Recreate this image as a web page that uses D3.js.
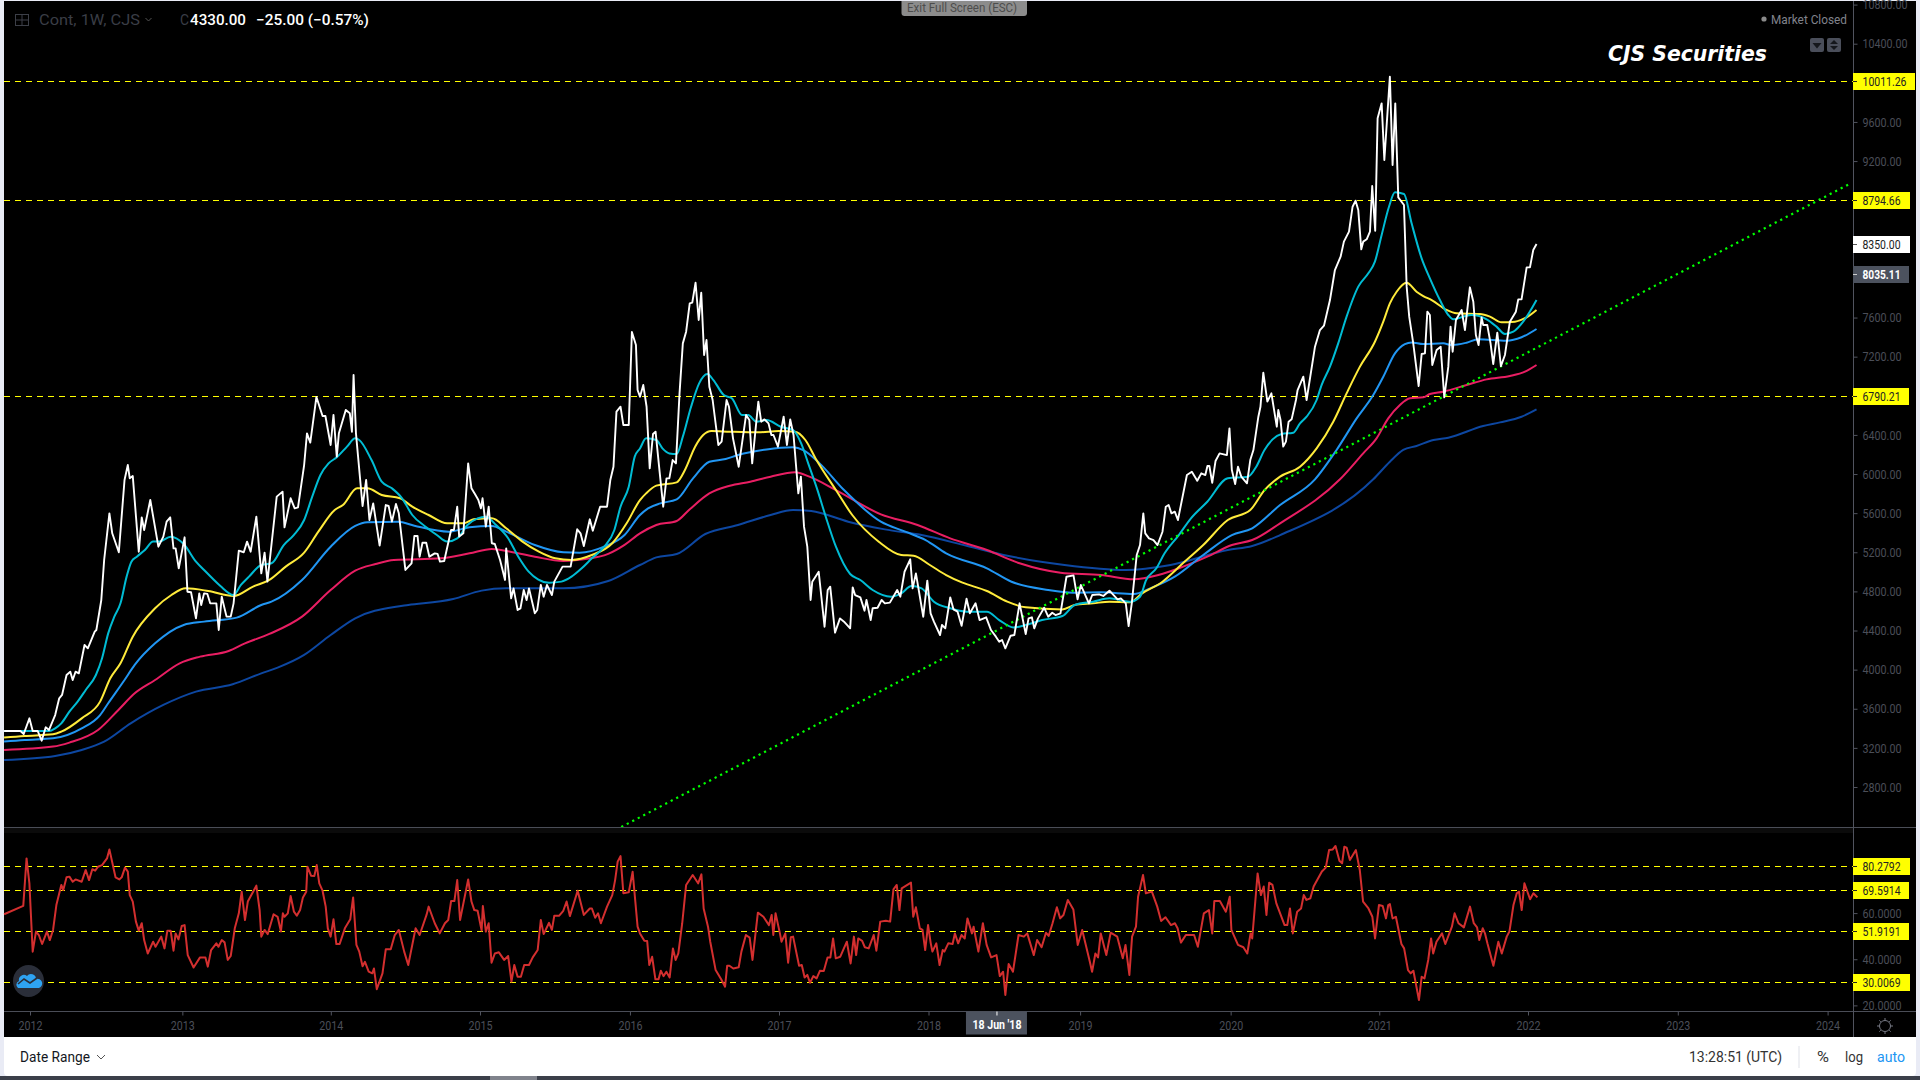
<!DOCTYPE html>
<html><head><meta charset="utf-8">
<script src="https://cdn.jsdelivr.net/npm/d3@7/dist/d3.min.js"></script>
<style>html,body{margin:0;padding:0;background:#e9ebf5;overflow:hidden}svg{display:block}text{font-family:Roboto,"Open Sans",sans-serif}</style>
</head><body><svg id="c" width="1920" height="1080"></svg>
<script>
const priceClose = [[2011.827,3373],[2011.936,3373],[2011.958,3342],[2011.996,3502],[2012.018,3373],[2012.051,3373],[2012.078,3274],[2012.105,3410],[2012.127,3383],[2012.168,3536],[2012.195,3707],[2012.214,3741],[2012.244,3945],[2012.269,3979],[2012.285,3894],[2012.304,3979],[2012.326,3962],[2012.364,4252],[2012.386,4218],[2012.432,4388],[2012.443,4405],[2012.476,4712],[2012.495,5121],[2012.530,5598],[2012.549,5394],[2012.593,5200],[2012.631,5939],[2012.653,6092],[2012.666,5956],[2012.686,5980],[2012.726,5206],[2012.746,5557],[2012.762,5428],[2012.803,5735],[2012.857,5257],[2012.890,5360],[2012.912,5513],[2012.936,5557],[2012.958,5240],[2012.972,5240],[2012.993,5036],[2013.032,5353],[2013.051,4797],[2013.075,4791],[2013.108,4525],[2013.130,4780],[2013.143,4661],[2013.162,4780],[2013.184,4774],[2013.203,4678],[2013.244,4678],[2013.260,4405],[2013.280,4746],[2013.312,4542],[2013.340,4542],[2013.359,4678],[2013.394,5217],[2013.427,5200],[2013.449,5309],[2013.473,5206],[2013.511,5564],[2013.544,4985],[2013.566,5196],[2013.585,4900],[2013.647,5769],[2013.686,5820],[2013.699,5455],[2013.740,5752],[2013.767,5649],[2013.789,5660],[2013.830,6092],[2013.849,6416],[2013.871,6321],[2013.912,6788],[2013.953,6593],[2013.972,6593],[2014.007,6297],[2014.026,6604],[2014.048,6178],[2014.062,6416],[2014.108,6655],[2014.135,6621],[2014.149,6433],[2014.160,7013],[2014.176,6416],[2014.220,5673],[2014.244,5939],[2014.266,5530],[2014.291,5700],[2014.334,5268],[2014.375,5683],[2014.394,5673],[2014.416,5513],[2014.443,5694],[2014.462,5598],[2014.506,5019],[2014.547,5087],[2014.566,5367],[2014.587,5367],[2014.601,5155],[2014.620,5298],[2014.645,5298],[2014.666,5155],[2014.702,5189],[2014.721,5183],[2014.737,5104],[2014.765,5111],[2014.811,5428],[2014.830,5428],[2014.852,5666],[2014.865,5360],[2014.893,5394],[2014.925,6109],[2014.947,5854],[2014.974,5786],[2014.993,5735],[2015.010,5649],[2015.021,5752],[2015.043,5462],[2015.062,5666],[2015.083,5292],[2015.103,5285],[2015.138,5121],[2015.171,4917],[2015.179,5240],[2015.212,4729],[2015.228,4831],[2015.255,4610],[2015.274,4627],[2015.296,4814],[2015.315,4712],[2015.331,4831],[2015.370,4576],[2015.386,4610],[2015.410,4866],[2015.429,4746],[2015.451,4866],[2015.484,4763],[2015.500,4900],[2015.555,5053],[2015.609,5053],[2015.653,5435],[2015.675,5394],[2015.697,5264],[2015.737,5537],[2015.757,5421],[2015.806,5666],[2015.852,5666],[2015.874,5939],[2015.895,6075],[2015.915,6638],[2015.942,6689],[2015.961,6501],[2015.997,6501],[2016.018,7452],[2016.045,7319],[2016.056,6859],[2016.072,6791],[2016.094,6910],[2016.116,6688],[2016.137,6058],[2016.159,6409],[2016.176,6433],[2016.203,6024],[2016.227,5666],[2016.249,5956],[2016.268,5956],[2016.290,6143],[2016.312,6109],[2016.336,6825],[2016.358,7336],[2016.380,7455],[2016.404,7745],[2016.421,7752],[2016.443,7956],[2016.464,7575],[2016.481,7854],[2016.500,7217],[2016.516,7370],[2016.535,6893],[2016.557,6757],[2016.595,6297],[2016.617,6331],[2016.650,6757],[2016.666,6688],[2016.693,6365],[2016.731,6075],[2016.780,6603],[2016.802,6552],[2016.821,6109],[2016.862,6740],[2016.881,6535],[2016.903,6559],[2016.930,6518],[2016.949,6399],[2016.963,6399],[2016.993,6280],[2017.031,6586],[2017.053,6297],[2017.075,6559],[2017.097,6399],[2017.129,5802],[2017.146,5973],[2017.167,5462],[2017.189,5257],[2017.211,4712],[2017.222,4899],[2017.265,5001],[2017.304,4439],[2017.325,4814],[2017.342,4848],[2017.374,4378],[2017.407,4524],[2017.434,4490],[2017.475,4422],[2017.492,4841],[2017.508,4763],[2017.543,4739],[2017.571,4603],[2017.584,4712],[2017.612,4507],[2017.625,4627],[2017.658,4633],[2017.685,4712],[2017.707,4678],[2017.740,4685],[2017.789,4814],[2017.810,4746],[2017.838,5001],[2017.876,5128],[2017.892,4831],[2017.914,4984],[2017.963,4541],[2017.990,4910],[2018.012,4576],[2018.034,4490],[2018.075,4354],[2018.088,4456],[2018.110,4422],[2018.143,4739],[2018.165,4616],[2018.192,4593],[2018.219,4449],[2018.252,4725],[2018.274,4576],[2018.312,4678],[2018.339,4507],[2018.383,4535],[2018.415,4405],[2018.448,4337],[2018.470,4286],[2018.489,4303],[2018.511,4218],[2018.546,4347],[2018.571,4354],[2018.606,4678],[2018.647,4364],[2018.666,4524],[2018.688,4535],[2018.704,4422],[2018.729,4524],[2018.770,4633],[2018.797,4541],[2018.824,4582],[2018.846,4558],[2018.879,4575],[2018.919,4950],[2018.966,4964],[2018.993,4719],[2019.015,4865],[2019.069,4678],[2019.091,4763],[2019.137,4770],[2019.165,4753],[2019.206,4807],[2019.260,4719],[2019.282,4729],[2019.315,4678],[2019.334,4446],[2019.355,4678],[2019.388,5172],[2019.410,5274],[2019.432,5598],[2019.445,5393],[2019.470,5342],[2019.500,5325],[2019.527,5274],[2019.560,5410],[2019.582,5666],[2019.601,5683],[2019.620,5598],[2019.642,5615],[2019.663,5530],[2019.723,5990],[2019.756,6024],[2019.792,5932],[2019.819,6007],[2019.846,5990],[2019.860,6082],[2019.873,6082],[2019.892,5911],[2019.914,6133],[2019.941,6211],[2019.990,6194],[2020.007,6467],[2020.023,6041],[2020.045,5898],[2020.064,6075],[2020.086,5973],[2020.124,5905],[2020.146,6143],[2020.167,6245],[2020.200,6586],[2020.214,6688],[2020.233,7036],[2020.260,6740],[2020.287,6825],[2020.323,6484],[2020.333,6655],[2020.348,6552],[2020.366,6280],[2020.384,6331],[2020.402,6535],[2020.422,6559],[2020.451,6757],[2020.462,6859],[2020.500,6995],[2020.522,6757],[2020.578,7302],[2020.611,7472],[2020.638,7517],[2020.678,7779],[2020.711,8086],[2020.749,8222],[2020.771,8376],[2020.805,8478],[2020.829,8733],[2020.849,8795],[2020.867,8699],[2020.887,8297],[2020.900,8376],[2020.923,8400],[2020.945,8478],[2020.960,8945],[2020.980,8488],[2020.996,9637],[2021.023,9790],[2021.041,9211],[2021.078,10063],[2021.096,9159],[2021.114,9790],[2021.134,8829],[2021.172,8751],[2021.190,7916],[2021.207,7609],[2021.234,7336],[2021.270,6900],[2021.290,7227],[2021.312,7234],[2021.328,7660],[2021.345,7626],[2021.361,7115],[2021.390,7268],[2021.417,7302],[2021.441,6784],[2021.468,7098],[2021.483,7507],[2021.497,7251],[2021.519,7575],[2021.557,7677],[2021.579,7472],[2021.612,7909],[2021.635,7762],[2021.652,7421],[2021.670,7319],[2021.690,7602],[2021.701,7524],[2021.728,7524],[2021.750,7336],[2021.768,7125],[2021.795,7445],[2021.819,7104],[2021.846,7217],[2021.879,7558],[2021.919,7660],[2021.935,7786],[2021.957,7786],[2021.991,8113],[2022.013,8113],[2022.035,8290],[2022.057,8352]];
const maTeal = [[2011.827,3373],[2012.127,3373],[2012.168,3400],[2012.209,3451],[2012.263,3570],[2012.318,3673],[2012.372,3792],[2012.440,3945],[2012.481,4116],[2012.522,4371],[2012.563,4542],[2012.604,4678],[2012.645,4951],[2012.677,5104],[2012.713,5155],[2012.767,5223],[2012.822,5309],[2012.863,5309],[2012.939,5360],[2013.026,5285],[2013.108,5104],[2013.162,5019],[2013.217,4934],[2013.271,4855],[2013.359,4763],[2013.408,4866],[2013.462,4951],[2013.544,5070],[2013.612,5087],[2013.694,5274],[2013.762,5377],[2013.830,5530],[2013.884,5769],[2013.939,5990],[2013.993,6109],[2014.048,6171],[2014.116,6280],[2014.171,6365],[2014.198,6348],[2014.280,6143],[2014.348,5922],[2014.416,5854],[2014.484,5752],[2014.552,5581],[2014.634,5469],[2014.716,5377],[2014.784,5309],[2014.852,5343],[2014.920,5479],[2014.988,5547],[2015.043,5564],[2015.111,5479],[2015.192,5343],[2015.260,5155],[2015.329,5002],[2015.391,4924],[2015.465,4889],[2015.547,4900],[2015.615,4951],[2015.683,5036],[2015.751,5138],[2015.833,5257],[2015.901,5428],[2015.942,5666],[2015.997,5871],[2016.037,6178],[2016.072,6262],[2016.113,6365],[2016.181,6348],[2016.222,6262],[2016.268,6211],[2016.317,6205],[2016.358,6382],[2016.413,6688],[2016.467,6927],[2016.522,7022],[2016.562,6961],[2016.631,6808],[2016.685,6774],[2016.753,6603],[2016.794,6603],[2016.849,6535],[2016.917,6552],[2017.012,6484],[2017.094,6450],[2017.148,6314],[2017.195,6109],[2017.257,5836],[2017.312,5564],[2017.380,5257],[2017.475,4978],[2017.543,4916],[2017.625,4814],[2017.748,4746],[2017.816,4780],[2017.884,4855],[2017.952,4831],[2018.034,4695],[2018.143,4627],[2018.252,4593],[2018.388,4593],[2018.470,4507],[2018.565,4432],[2018.647,4456],[2018.756,4507],[2018.892,4548],[2018.974,4661],[2019.097,4695],[2019.206,4729],[2019.342,4695],[2019.410,4746],[2019.451,4916],[2019.519,5036],[2019.574,5189],[2019.669,5376],[2019.750,5547],[2019.859,5717],[2019.996,5956],[2020.132,5973],[2020.186,6075],[2020.241,6245],[2020.295,6354],[2020.355,6409],[2020.433,6423],[2020.478,6518],[2020.522,6586],[2020.589,6757],[2020.622,6910],[2020.678,7098],[2020.733,7336],[2020.789,7609],[2020.867,7916],[2020.934,8052],[2020.978,8171],[2021.023,8444],[2021.072,8733],[2021.112,8880],[2021.172,8863],[2021.223,8563],[2021.290,8205],[2021.345,8001],[2021.412,7779],[2021.468,7626],[2021.501,7582],[2021.568,7609],[2021.624,7626],[2021.724,7582],[2021.790,7507],[2021.846,7432],[2021.902,7455],[2021.968,7558],[2022.057,7779]];
const maYellow = [[2011.827,3305],[2011.963,3322],[2012.154,3339],[2012.209,3366],[2012.345,3502],[2012.468,3673],[2012.536,3911],[2012.604,4065],[2012.686,4337],[2012.835,4627],[2012.944,4763],[2013.040,4831],[2013.190,4804],[2013.359,4753],[2013.489,4849],[2013.598,4917],[2013.707,5053],[2013.830,5196],[2013.925,5411],[2014.034,5632],[2014.089,5683],[2014.184,5854],[2014.252,5854],[2014.348,5786],[2014.470,5752],[2014.552,5666],[2014.661,5581],[2014.784,5496],[2014.893,5496],[2014.961,5537],[2015.083,5547],[2015.179,5445],[2015.288,5309],[2015.397,5206],[2015.506,5138],[2015.615,5121],[2015.751,5172],[2015.887,5292],[2015.983,5496],[2016.072,5734],[2016.113,5802],[2016.181,5881],[2016.317,5915],[2016.372,6041],[2016.440,6280],[2016.494,6399],[2016.549,6440],[2016.671,6433],[2016.862,6426],[2016.998,6440],[2017.107,6433],[2017.176,6348],[2017.244,6160],[2017.380,5836],[2017.489,5581],[2017.666,5308],[2017.816,5172],[2017.898,5165],[2018.007,5070],[2018.116,4967],[2018.225,4889],[2018.388,4804],[2018.524,4695],[2018.647,4637],[2018.892,4616],[2018.974,4661],[2019.097,4678],[2019.206,4695],[2019.342,4688],[2019.424,4780],[2019.560,4899],[2019.696,5087],[2019.832,5274],[2019.996,5530],[2020.146,5632],[2020.241,5836],[2020.345,5973],[2020.478,6075],[2020.589,6263],[2020.700,6535],[2020.789,6825],[2020.878,7098],[2020.978,7353],[2021.034,7558],[2021.078,7745],[2021.123,7864],[2021.190,7956],[2021.256,7864],[2021.301,7820],[2021.357,7779],[2021.457,7677],[2021.523,7643],[2021.679,7636],[2021.746,7609],[2021.824,7551],[2021.913,7558],[2021.991,7602],[2022.057,7677]];
const maBlue = [[2011.827,3264],[2011.963,3281],[2012.154,3298],[2012.345,3400],[2012.468,3536],[2012.522,3656],[2012.631,3894],[2012.699,4048],[2012.835,4269],[2013.026,4457],[2013.162,4491],[2013.380,4532],[2013.544,4661],[2013.612,4695],[2013.816,4917],[2014.007,5257],[2014.171,5469],[2014.252,5506],[2014.457,5513],[2014.566,5472],[2014.797,5411],[2014.934,5455],[2015.083,5469],[2015.179,5411],[2015.370,5274],[2015.560,5200],[2015.669,5196],[2015.833,5257],[2015.969,5377],[2016.072,5581],[2016.126,5649],[2016.208,5700],[2016.317,5741],[2016.426,5956],[2016.535,6126],[2016.644,6153],[2016.726,6194],[2016.917,6252],[2017.094,6273],[2017.162,6245],[2017.271,6109],[2017.434,5836],[2017.680,5513],[2017.843,5411],[2017.979,5325],[2018.116,5189],[2018.388,5036],[2018.552,4899],[2018.797,4814],[2018.960,4787],[2019.151,4790],[2019.369,4773],[2019.478,4831],[2019.642,4950],[2019.832,5172],[2020.023,5376],[2020.159,5445],[2020.345,5683],[2020.578,5946],[2020.722,6246],[2020.856,6569],[2020.967,6808],[2021.034,6995],[2021.112,7234],[2021.178,7329],[2021.223,7346],[2021.301,7329],[2021.434,7336],[2021.490,7319],[2021.590,7343],[2021.668,7377],[2021.857,7363],[2021.957,7398],[2022.057,7483]];
const maPink = [[2011.827,3179],[2012.154,3213],[2012.263,3254],[2012.454,3383],[2012.590,3588],[2012.699,3758],[2012.835,3894],[2012.999,4065],[2013.135,4133],[2013.326,4191],[2013.435,4269],[2013.598,4365],[2013.816,4542],[2014.007,4814],[2014.171,5012],[2014.307,5080],[2014.429,5121],[2014.743,5138],[2014.934,5189],[2015.083,5234],[2015.206,5206],[2015.370,5155],[2015.560,5111],[2015.696,5128],[2015.860,5183],[2015.969,5275],[2016.072,5393],[2016.181,5479],[2016.317,5520],[2016.399,5632],[2016.535,5802],[2016.671,5881],[2016.808,5922],[2016.944,5973],[2017.107,6017],[2017.203,5973],[2017.380,5836],[2017.680,5588],[2017.925,5479],[2018.143,5342],[2018.388,5223],[2018.606,5087],[2018.879,4991],[2019.151,4967],[2019.369,4923],[2019.532,4967],[2019.669,5036],[2019.859,5155],[2020.023,5274],[2020.159,5325],[2020.345,5496],[2020.745,5946],[2020.900,6212],[2020.989,6365],[2021.067,6569],[2021.145,6706],[2021.212,6774],[2021.301,6784],[2021.345,6818],[2021.434,6842],[2021.590,6910],[2021.724,6968],[2021.879,7002],[2021.980,7047],[2022.057,7115]];
const maNavy = [[2011.827,3076],[2012.168,3117],[2012.345,3179],[2012.495,3264],[2012.672,3451],[2012.890,3639],[2013.108,3775],[2013.353,3850],[2013.544,3962],[2013.653,4020],[2013.830,4150],[2014.007,4354],[2014.171,4525],[2014.443,4644],[2014.525,4661],[2014.825,4722],[2015.015,4808],[2015.179,4831],[2015.560,4831],[2015.860,4906],[2016.072,5070],[2016.181,5148],[2016.317,5182],[2016.508,5387],[2016.726,5479],[2016.944,5581],[2017.094,5632],[2017.216,5622],[2017.462,5513],[2017.707,5434],[2017.952,5376],[2018.252,5267],[2018.524,5165],[2018.906,5070],[2019.315,5019],[2019.614,5070],[2019.996,5223],[2020.159,5264],[2020.345,5376],[2020.967,5946],[2021.078,6126],[2021.167,6246],[2021.256,6287],[2021.368,6348],[2021.468,6372],[2021.701,6491],[2021.813,6528],[2021.957,6586],[2022.057,6661]];
const rsi = [[2011.827,59.5],[2011.955,63.1],[2011.977,83.7],[2011.996,72.9],[2012.018,43.3],[2012.040,52.0],[2012.059,50.5],[2012.081,46.6],[2012.113,52.0],[2012.132,48.3],[2012.154,52.7],[2012.176,63.5],[2012.209,72.2],[2012.222,70.0],[2012.244,75.5],[2012.263,75.8],[2012.285,73.6],[2012.304,74.6],[2012.345,73.6],[2012.372,78.7],[2012.394,74.3],[2012.416,79.0],[2012.435,78.4],[2012.454,80.1],[2012.481,80.8],[2012.514,83.7],[2012.530,87.6],[2012.571,75.5],[2012.596,74.6],[2012.612,75.5],[2012.634,79.7],[2012.653,78.0],[2012.666,67.8],[2012.686,65.0],[2012.707,56.3],[2012.726,52.4],[2012.746,55.6],[2012.762,48.3],[2012.786,42.5],[2012.822,47.6],[2012.838,45.4],[2012.876,49.8],[2012.898,44.7],[2012.917,52.4],[2012.939,52.4],[2012.958,43.7],[2012.972,51.2],[2012.991,48.6],[2013.013,54.4],[2013.032,54.8],[2013.053,41.8],[2013.092,36.4],[2013.135,40.8],[2013.171,40.8],[2013.187,36.8],[2013.209,44.0],[2013.244,46.9],[2013.258,45.4],[2013.280,48.3],[2013.299,47.3],[2013.320,39.7],[2013.340,41.4],[2013.367,53.4],[2013.394,59.9],[2013.413,69.3],[2013.435,57.0],[2013.454,65.0],[2013.511,71.9],[2013.533,61.3],[2013.544,49.8],[2013.566,52.7],[2013.587,50.9],[2013.626,59.5],[2013.653,58.4],[2013.675,52.0],[2013.688,59.9],[2013.699,58.4],[2013.721,59.9],[2013.740,67.4],[2013.762,60.6],[2013.781,58.9],[2013.803,61.3],[2013.822,66.8],[2013.844,69.3],[2013.852,80.1],[2013.876,76.2],[2013.898,76.1],[2013.914,80.8],[2013.931,72.9],[2013.953,69.7],[2013.974,62.8],[2013.988,53.4],[2014.007,49.8],[2014.026,57.3],[2014.045,46.6],[2014.067,46.6],[2014.102,53.4],[2014.138,57.3],[2014.157,66.8],[2014.179,46.2],[2014.198,43.3],[2014.220,37.0],[2014.236,38.9],[2014.261,34.6],[2014.285,33.9],[2014.296,36.0],[2014.315,27.0],[2014.353,33.9],[2014.375,44.3],[2014.408,44.3],[2014.435,50.5],[2014.462,52.7],[2014.498,43.3],[2014.525,37.5],[2014.574,53.4],[2014.601,50.5],[2014.647,59.2],[2014.661,62.8],[2014.702,55.6],[2014.735,51.2],[2014.770,55.6],[2014.792,57.0],[2014.811,65.2],[2014.833,65.2],[2014.852,74.3],[2014.871,57.0],[2014.925,74.6],[2014.947,65.0],[2014.966,61.3],[2014.988,61.0],[2015.015,52.4],[2015.023,63.1],[2015.043,52.0],[2015.062,55.6],[2015.081,38.5],[2015.103,42.5],[2015.130,43.0],[2015.165,39.7],[2015.192,41.4],[2015.214,30.3],[2015.233,37.5],[2015.255,32.4],[2015.277,32.4],[2015.299,37.5],[2015.331,37.5],[2015.356,40.8],[2015.389,44.0],[2015.410,57.0],[2015.429,50.9],[2015.465,55.8],[2015.484,52.7],[2015.500,58.9],[2015.533,58.9],[2015.560,61.0],[2015.582,65.0],[2015.604,58.7],[2015.656,69.7],[2015.697,59.2],[2015.737,62.0],[2015.751,62.0],[2015.773,58.0],[2015.792,59.9],[2015.811,55.6],[2015.852,62.8],[2015.887,67.8],[2015.906,74.3],[2015.923,82.3],[2015.942,84.7],[2015.961,68.6],[2015.997,69.0],[2016.023,77.9],[2016.056,54.1],[2016.072,51.2],[2016.101,48.0],[2016.120,47.9],[2016.134,37.5],[2016.153,41.1],[2016.175,31.3],[2016.196,31.3],[2016.211,35.0],[2016.229,32.7],[2016.248,34.6],[2016.270,32.1],[2016.292,44.7],[2016.310,39.7],[2016.328,42.5],[2016.354,55.6],[2016.380,72.2],[2016.424,76.5],[2016.460,72.9],[2016.482,76.8],[2016.497,62.0],[2016.526,54.1],[2016.541,47.6],[2016.577,35.3],[2016.614,31.3],[2016.640,28.1],[2016.654,37.2],[2016.669,37.2],[2016.695,36.0],[2016.731,36.5],[2016.749,43.3],[2016.779,50.5],[2016.804,49.4],[2016.823,39.7],[2016.859,60.2],[2016.896,58.4],[2016.933,54.8],[2016.951,59.2],[2016.962,50.5],[2016.977,59.9],[2017.006,51.2],[2017.017,47.6],[2017.042,51.2],[2017.061,38.5],[2017.079,49.5],[2017.094,49.8],[2017.134,37.2],[2017.152,37.5],[2017.171,32.1],[2017.189,33.2],[2017.207,29.8],[2017.229,32.7],[2017.251,31.7],[2017.273,35.0],[2017.299,34.9],[2017.324,40.8],[2017.343,40.8],[2017.361,49.0],[2017.379,40.4],[2017.409,41.1],[2017.453,47.6],[2017.478,38.2],[2017.500,49.8],[2017.515,41.8],[2017.529,49.0],[2017.555,48.0],[2017.573,45.2],[2017.599,44.7],[2017.632,50.5],[2017.650,43.7],[2017.676,56.3],[2017.713,56.7],[2017.742,56.3],[2017.764,70.3],[2017.786,72.2],[2017.804,61.3],[2017.819,70.7],[2017.881,73.2],[2017.896,58.4],[2017.914,62.5],[2017.940,53.4],[2017.958,52.7],[2017.976,44.0],[2017.995,54.8],[2018.013,46.9],[2018.024,43.3],[2018.050,46.9],[2018.072,37.5],[2018.093,44.0],[2018.104,43.3],[2018.130,46.9],[2018.159,46.6],[2018.174,51.2],[2018.196,46.9],[2018.218,50.5],[2018.240,49.0],[2018.258,57.7],[2018.288,51.2],[2018.299,54.1],[2018.331,43.3],[2018.361,55.6],[2018.386,46.2],[2018.416,40.8],[2018.452,41.8],[2018.474,32.7],[2018.496,34.6],[2018.511,24.5],[2018.533,37.9],[2018.562,34.6],[2018.599,50.5],[2018.635,49.8],[2018.657,51.2],[2018.701,41.8],[2018.723,48.3],[2018.753,45.2],[2018.782,51.5],[2018.800,50.1],[2018.826,55.6],[2018.855,62.5],[2018.877,57.7],[2018.899,59.2],[2018.928,65.7],[2018.965,61.6],[2018.994,46.2],[2019.024,52.7],[2019.075,38.9],[2019.090,34.6],[2019.112,42.5],[2019.130,40.8],[2019.148,51.2],[2019.185,41.8],[2019.214,51.5],[2019.258,49.8],[2019.295,40.4],[2019.313,46.2],[2019.339,33.2],[2019.357,49.8],[2019.383,54.1],[2019.397,67.1],[2019.430,76.5],[2019.449,68.6],[2019.489,69.3],[2019.525,62.8],[2019.551,56.6],[2019.580,58.2],[2019.617,54.8],[2019.643,55.6],[2019.661,53.4],[2019.683,47.2],[2019.716,50.5],[2019.771,50.5],[2019.796,45.4],[2019.836,59.9],[2019.870,61.3],[2019.892,51.2],[2019.906,65.2],[2019.943,65.2],[2019.983,60.6],[2020.009,67.1],[2020.020,52.7],[2020.064,46.2],[2020.100,45.2],[2020.126,42.5],[2020.148,51.2],[2020.159,49.0],[2020.195,77.2],[2020.217,67.8],[2020.236,71.5],[2020.254,59.2],[2020.272,73.2],[2020.294,72.2],[2020.320,64.2],[2020.375,54.8],[2020.393,54.8],[2020.411,62.0],[2020.430,51.2],[2020.459,60.6],[2020.485,62.0],[2020.503,67.8],[2020.521,65.7],[2020.547,66.4],[2020.569,71.5],[2020.624,78.0],[2020.650,79.7],[2020.672,87.3],[2020.697,87.6],[2020.715,89.1],[2020.741,82.7],[2020.759,81.6],[2020.774,88.8],[2020.789,88.4],[2020.811,83.0],[2020.851,87.3],[2020.877,78.7],[2020.899,65.0],[2020.935,62.0],[2020.961,58.4],[2020.979,49.0],[2021.005,63.5],[2021.030,63.1],[2021.052,57.7],[2021.067,63.5],[2021.078,63.9],[2021.096,57.7],[2021.118,58.4],[2021.155,46.6],[2021.173,44.7],[2021.199,35.3],[2021.217,33.9],[2021.235,35.0],[2021.272,22.3],[2021.290,32.4],[2021.309,31.7],[2021.334,39.7],[2021.353,49.0],[2021.367,42.5],[2021.389,47.6],[2021.426,51.2],[2021.448,46.6],[2021.492,54.1],[2021.510,59.9],[2021.536,55.6],[2021.572,53.8],[2021.613,62.8],[2021.638,55.6],[2021.660,53.8],[2021.675,48.3],[2021.698,53.4],[2021.713,51.2],[2021.729,46.9],[2021.769,37.2],[2021.802,47.6],[2021.825,42.5],[2021.858,49.8],[2021.876,52.0],[2021.903,63.5],[2021.925,68.6],[2021.940,69.3],[2021.958,61.3],[2021.976,72.9],[2022.014,66.0],[2022.036,68.6],[2022.063,66.8]];
const trendline = [[2015.947,2391],[2024.145,8965]];
const priceLevels = [10011.26, 8794.66, 6790.21];
const rsiLevels = ["80.2792", "69.5914", "51.9191", "30.0069"];
const priceTicks = [10800,10400,9600,9200,7600,7200,6400,6000,5600,5200,4800,4400,4000,3600,3200,2800];
const rsiTicks = [60,40,20];
const yearLabels = ["2012","2013","2014","2015","2016","2017","2018","2019","2020","2021","2022","2023","2024"];
const yearPositions = [2012,2013.017,2014.008,2015.004,2016.005,2017,2017.998,2019.01,2020.015,2021.007,2022,2023,2024];
const lastPrice = 8350, crossPrice = 8035.11, crossDate = 2018.455;

const svg = d3.select("#c");
const X0=4, X1=1853.5, PT=1, PB=827.5, RB=1011.5, CB=1037;
const x = d3.scaleLinear().domain([2012,2024]).range([30,1827.6]);
const y = d3.scaleLinear().domain([2800,10400]).range([787,43.7]);
const yr = d3.scaleLinear().domain([30.0069,80.2792]).range([982.3,866.3]);
const line = (yy) => d3.line().x(d=>x(d[0])).y(d=>yy(d[1]));
const snap = v => Math.floor(v)+0.5;

const FONT_AX="#4b4e58", YEL="#ffff00";
// frame
svg.append("rect").attr("x",0).attr("y",1076).attr("width",1920).attr("height",4).attr("fill","#3b3f49");
svg.append("rect").attr("x",490).attr("y",1076).attr("width",47).attr("height",4).attr("fill","#80838c");
svg.append("rect").attr("x",X0).attr("y",PT).attr("width",1912).attr("height",CB-PT).attr("fill","#000");
svg.append("path").attr("fill","#fff").attr("d",`M${X0} ${CB}H1916V1072a4 4 0 0 1 -4 4H${X0+4}a4 4 0 0 1 -4 -4Z`);
svg.append("rect").attr("x",X0).attr("y",PB+0.5).attr("width",X1-X0).attr("height",5).attr("fill","#0b0b0b");

const defs=svg.append("defs");
defs.append("clipPath").attr("id","pp").append("rect").attr("x",X0).attr("y",PT).attr("width",X1-X0).attr("height",PB-PT);

function label(t,xx,yy,opts={}){
  const s=svg.append("text").attr("x",xx).attr("y",yy).text(t)
   .attr("font-size",opts.size||13).attr("fill",opts.fill||FONT_AX)
   .attr("dominant-baseline","central").attr("text-anchor",opts.anchor||"start");
  if(opts.weight) s.attr("font-weight",opts.weight);
  if(opts.len) s.attr("textLength",opts.len).attr("lengthAdjust","spacingAndGlyphs");
  if(opts.family) s.style("font-family",opts.family);
  if(opts.style) s.attr("font-style",opts.style);
  return s;
}

// dashed levels
const dash="6,5";
svg.append("g").selectAll("line").data(priceLevels).join("line")
 .attr("x1",X0).attr("x2",X1).attr("y1",d=>snap(y(d))).attr("y2",d=>snap(y(d)))
 .attr("stroke",YEL).attr("stroke-width",1).attr("stroke-dasharray",dash);
svg.append("g").selectAll("line").data(rsiLevels).join("line")
 .attr("x1",X0).attr("x2",X1).attr("y1",d=>snap(yr(+d))).attr("y2",d=>snap(yr(+d)))
 .attr("stroke",YEL).attr("stroke-width",1).attr("stroke-dasharray",dash);

// moving averages and price
const g=svg.append("g").attr("clip-path","url(#pp)").attr("fill","none").attr("stroke-linejoin","round");
[[maNavy,"#0d47a1"],[maPink,"#e91e63"],[maBlue,"#2196f3"],[maYellow,"#ffeb3b"],[maTeal,"#00bcd4"]].forEach(([d,c])=>{
  g.append("path").datum(d).attr("d",line(y).curve(d3.curveMonotoneX)).attr("stroke",c).attr("stroke-width",2);
});
g.append("path").datum(trendline).attr("d",line(y)).attr("stroke","#00ff00").attr("stroke-width",2.2).attr("stroke-dasharray","2.2,4");
g.append("path").datum(priceClose).attr("d",line(y)).attr("stroke","#ffffff").attr("stroke-width",1.9);

// RSI
svg.append("path").datum(rsi).attr("d",line(yr)).attr("fill","none").attr("stroke","#d32f2f").attr("stroke-width",2).attr("stroke-linejoin","round");

// pane lines
svg.append("line").attr("x1",X0).attr("x2",1916).attr("y1",PB).attr("y2",PB).attr("stroke","#4a4d57");
svg.append("line").attr("x1",X0).attr("x2",1916).attr("y1",RB).attr("y2",RB).attr("stroke","#4a4d57");
svg.append("line").attr("x1",X1).attr("x2",X1).attr("y1",PT).attr("y2",CB).attr("stroke","#50535e");

// price axis
const axP=svg.append("g").attr("transform",`translate(${X1},0)`).call(d3.axisRight(y).tickValues(priceTicks).tickSize(4).tickPadding(5).tickFormat(d3.format(".2f")));
axP.select(".domain").remove();
axP.selectAll("line").attr("stroke","#50535e");
axP.selectAll("text").attr("fill",FONT_AX).attr("font-size",13).style("font-family","Roboto").attr("textLength",function(){return this.textContent.length==8?45:39}).attr("lengthAdjust","spacingAndGlyphs");
const axR=svg.append("g").attr("transform",`translate(${X1},0)`).call(d3.axisRight(yr).tickValues(rsiTicks).tickSize(4).tickPadding(5).tickFormat(d3.format(".4f")));
axR.select(".domain").remove();
axR.selectAll("line").attr("stroke","#50535e");
axR.selectAll("text").attr("fill",FONT_AX).attr("font-size",13).style("font-family","Roboto").attr("textLength",39).attr("lengthAdjust","spacingAndGlyphs");

// time axis
const axT=svg.append("g").attr("transform",`translate(0,${RB})`).call(d3.axisBottom(x).tickValues(yearPositions).tickSize(4).tickPadding(5).tickFormat((d,i)=>yearLabels[i]));
axT.select(".domain").remove();
axT.selectAll("line").attr("stroke","#50535e");
axT.selectAll("text").attr("fill",FONT_AX).attr("font-size",13).style("font-family","Roboto").attr("textLength",24).attr("lengthAdjust","spacingAndGlyphs");

// value tags
function tag(txt,yy,w,bg,fg,bold){
  const cy=snap(yy);
  svg.append("rect").attr("x",1853).attr("y",cy-8.5).attr("width",w).attr("height",17).attr("fill",bg);
  svg.append("line").attr("x1",1853).attr("x2",1857).attr("y1",cy).attr("y2",cy).attr("stroke",bg=="#ffff00"?"#222":(bg=="#fff"?"#555":"#ccc"));
  label(txt,1862.5,cy,{fill:fg,len:txt.length==8?44:38,weight:bold?700:400});
}
const fmt2=d3.format(".2f");
tag(fmt2(priceLevels[0]),y(priceLevels[0]),62,YEL,"#222");
tag(fmt2(priceLevels[1]),y(priceLevels[1]),57,YEL,"#222");
tag(fmt2(lastPrice),y(lastPrice),57,"#fff","#222");
tag(fmt2(crossPrice),y(crossPrice),56,"#4c525e","#fff",true);
tag(fmt2(priceLevels[2]),y(priceLevels[2]),56,YEL,"#222");
rsiLevels.forEach((d,i)=>tag(d,yr(+d),(i==0||i==3)?57:56,YEL,"#222"));

// crosshair date label
const cx=x(crossDate);
svg.append("rect").attr("x",cx-31).attr("y",RB).attr("width",61).attr("height",23).attr("fill","#4c525e");
svg.append("line").attr("x1",cx).attr("x2",cx).attr("y1",RB).attr("y2",RB+4).attr("stroke","#fff");
label("18 Jun '18",cx,RB+13,{fill:"#fff",anchor:"middle",len:49,weight:700,size:12});

// header text
svg.append("rect").attr("x",15.5).attr("y",14.5).attr("width",13).attr("height",11).attr("fill","none").attr("stroke","#3c3f48");
svg.append("path").attr("d","M22 15V25M16 20H28").attr("stroke","#3c3f48");
label("Cont, 1W, CJS",39,20,{fill:"#3a3d46",size:15,len:101});
svg.append("path").attr("d","M145.5 18l3 3 3 -3").attr("fill","none").attr("stroke","#555");
label("C",180,20,{fill:"#3a3d46",size:15,len:9});
label("4330.00",190,20,{fill:"#fff",size:15,len:56,weight:500});
label("\u221225.00 (\u22120.57%)",256,20,{fill:"#fff",size:15,len:113,weight:500});

svg.append("circle").attr("cx",1764).attr("cy",19).attr("r",2.6).attr("fill","#8a8a8a");
label("Market Closed",1771,19,{fill:"#80838c",size:13,len:76});
label("CJS Securities",1608,53,{fill:"#fff",size:22,len:159,weight:700,style:"italic",family:"'DejaVu Sans'"});
svg.append("rect").attr("x",1810).attr("y",38).attr("width",14).attr("height",14).attr("rx",2).attr("fill","#4a4e5a");
svg.append("path").attr("d","M1812.5 43h9l-4.5 5.5Z").attr("fill","#15171c");
svg.append("rect").attr("x",1827).attr("y",38).attr("width",14).attr("height",14).attr("rx",2).attr("fill","#4a4e5a");
svg.append("path").attr("d","M1830 44l4-4 4 4ZM1830 46l4 4 4 -4Z").attr("fill","#15171c");

// exit fullscreen tab
svg.append("path").attr("d","M901.5 1H1027V13a3 3 0 0 1 -3 3H904.5a3 3 0 0 1 -3 -3Z").attr("fill","#8c8c8c");
label("Exit Full Screen (ESC)",907,8,{fill:"#4d4d4d",size:12,len:110});

// footer
label("Date Range",20,1057,{fill:"#131722",size:15,len:70});
svg.append("path").attr("d","M97 1055l4 4 4 -4").attr("fill","none").attr("stroke","#555");
label("13:28:51 (UTC)",1689,1057,{fill:"#333",size:15,len:93});
svg.append("line").attr("x1",1799).attr("x2",1799).attr("y1",1046).attr("y2",1068).attr("stroke","#dfe1e8");
label("%",1817,1057,{fill:"#333",size:15,len:12});
label("log",1845,1057,{fill:"#333",size:15,len:18});
label("auto",1877,1057,{fill:"#2196f3",size:15,len:28});

// logo
svg.append("ellipse").attr("cx",28.5).attr("cy",981).attr("rx",15.5).attr("ry",16).attr("fill","#2a2e39");
svg.append("path").attr("d","M18 988a4 4 0 0 1 1 -7 5 5 0 0 1 8 -5 5 5 0 0 1 9 3 4.5 4.5 0 0 1 3 9Z").attr("fill","#2ea3f2");
svg.append("path").attr("d","M18 984l6 -5 6 4 7 -5").attr("fill","none").attr("stroke","#2a2e39").attr("stroke-width",1.6);

// settings sun icon
const sun=svg.append("g").attr("transform","translate(1885,1026)").attr("stroke","#787b86").attr("fill","none");
sun.append("circle").attr("r",5.5);
d3.range(8).forEach(i=>{const a=i*Math.PI/4;sun.append("line").attr("x1",6*Math.cos(a)).attr("y1",6*Math.sin(a)).attr("x2",8*Math.cos(a)).attr("y2",8*Math.sin(a));});
</script></body></html>
